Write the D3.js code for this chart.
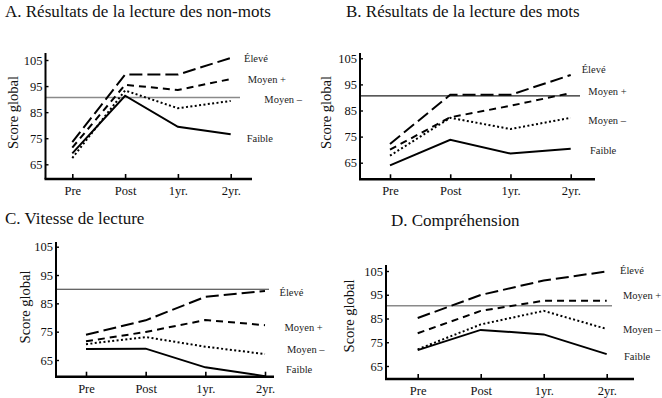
<!DOCTYPE html>
<html>
<head>
<meta charset="utf-8">
<script src="https://cdn.jsdelivr.net/npm/d3@7"></script>
<style>
  body { margin: 0; background: #fff; }
  svg { display: block; font-family: "Liberation Serif", "DejaVu Serif", serif; }
</style>
</head>
<body>
<div id="chart"></div>
<script>
// Categories, groups and tick values
const categories = ['Pre', 'Post', '1yr.', '2yr.'];
const groups = ['Élevé', 'Moyen +', 'Moyen –', 'Faible'];
const yTicks = [65, 75, 85, 95, 105];
const titles = [
    'A. Résultats de la lecture des non-mots',
    'B. Résultats de la lecture des mots',
    'C. Vitesse de lecture',
    'D. Compréhension'
];
const yLabel = 'Score global';

// Reference (average) line for each panel
const refValues = [90.6, 90.6, 90, 90.4];

// Scores per group (Élevé, Moyen +, Moyen –, Faible), per test time
const nonMots = [
    [73.5, 99.4, 99.4, 105.8],
    [71.4, 95.5, 93.5, 97.7],
    [67.4, 93.3, 86.5, 89.3],
    [69.2, 91.3, 79.4, 76.5]
];
const mots = [
    [72.2, 91.0, 91.0, 98.6],
    [70.0, 82.4, 86.8, 91.7],
    [67.7, 82.2, 77.9, 82.2],
    [64.0, 73.8, 68.5, 70.3]
];
const vitesse = [
    [73.9, 79.0, 87.3, 89.4],
    [71.6, 74.9, 79.1, 77.3],
    [70.6, 73.1, 69.7, 67.1],
    [68.9, 69.0, 62.4, 59.3]
];
const comprehension = [
    [85.2, 94.9, 101.0, 104.8],
    [78.8, 88.2, 92.5, 92.5],
    [72.0, 82.5, 88.2, 80.6],
    [71.7, 80.2, 78.3, 70.0]
];
const panelValues = [nonMots, mots, vitesse, comprehension];

// Line style for each group
const dashes = ['13,5', '7,5', '2,2.4', null];

// Layout of the four panels (pixels)
let layout = [
    { xAxis: 45.5, xEnd: 252, refEnd: 240, yTop: 53, yBase: 179, xr: [72.3, 230.7], yr: [164.3, 60],
      titleX: 5, titleY: 17, labX: 17.5, labY: 112.5, refColor: '#8a8a8a', refWidth: 1.6,
      tags: [[244, 58.3], [247.7, 79.3], [264.3, 99], [246.7, 138.3]] },
    { xAxis: 360, xEnd: 595, refEnd: 580, yTop: 53, yBase: 179.3, xr: [390, 570.7], yr: [162.7, 58.3],
      titleX: 346, titleY: 17, labX: 331, labY: 112.5, refColor: '#222', refWidth: 1.1,
      tags: [[581.7, 69], [588.3, 91.7], [588.3, 120], [590, 150.7]] },
    { xAxis: 56, xEnd: 274, refEnd: 269, yTop: 242, yBase: 376.7, xr: [86, 265], yr: [360, 246.7],
      titleX: 5, titleY: 224, labX: 30, labY: 307, refColor: '#333', refWidth: 1.1,
      tags: [[279.5, 292.3], [284.5, 327], [287, 349.5], [286, 369.5]] },
    { xAxis: 386, xEnd: 634, refEnd: 612, yTop: 265, yBase: 379, xr: [417.7, 606.7], yr: [366, 271],
      titleX: 391, titleY: 226, labX: 354, labY: 316, refColor: '#8a8a8a', refWidth: 1.6,
      tags: [[620, 270.7], [623, 295], [623, 329], [624, 356.7]] }
];

let svg = d3.select('#chart')
    .append('svg')
    .attr('width', 662)
    .attr('height', 398);

layout.forEach(function (p, i) {
    let x = d3.scalePoint().domain(categories).range(p.xr);
    let y = d3.scaleLinear().domain([65, 105]).range(p.yr);
    let g = svg.append('g');

    // Title
    g.append('text')
        .attr('x', p.titleX)
        .attr('y', p.titleY)
        .attr('font-size', 17)
        .attr('fill', '#111')
        .text(titles[i]);

    // Y axis title
    g.append('text')
        .attr('transform', 'translate(' + p.labX + ',' + p.labY + ') rotate(-90)')
        .attr('text-anchor', 'middle')
        .attr('font-size', 14.5)
        .attr('fill', '#111')
        .text(yLabel);

    // Reference line
    g.append('line')
        .attr('x1', p.xAxis)
        .attr('x2', p.refEnd)
        .attr('y1', y(refValues[i]))
        .attr('y2', y(refValues[i]))
        .attr('stroke', p.refColor)
        .attr('stroke-width', p.refWidth);

    // Series lines
    let line = d3.line()
        .x(function (d, j) { return x(categories[j]); })
        .y(function (d) { return y(d); });

    panelValues[i].forEach(function (vals, k) {
        g.append('path')
            .datum(vals)
            .attr('d', line)
            .attr('fill', 'none')
            .attr('stroke', '#000')
            .attr('stroke-width', 2)
            .attr('stroke-dasharray', dashes[k]);

        g.append('text')
            .attr('x', p.tags[k][0])
            .attr('y', p.tags[k][1])
            .attr('dy', '0.35em')
            .attr('font-size', 10.5)
            .attr('fill', '#222')
            .text(groups[k]);
    });

    // X axis
    let xa = g.append('g')
        .attr('transform', 'translate(0,' + p.yBase + ')')
        .call(d3.axisBottom(x).tickSize(-5).tickSizeOuter(0).tickPadding(7));
    xa.select('.domain').remove();
    xa.selectAll('.tick line').attr('stroke-width', 1.6);
    xa.selectAll('.tick text')
        .attr('font-family', '"Liberation Serif", serif')
        .attr('font-size', 12.5)
        .attr('fill', '#111');

    // Y axis
    let ya = g.append('g')
        .attr('transform', 'translate(' + p.xAxis + ',0)')
        .call(d3.axisLeft(y).tickValues(yTicks).tickSize(-3).tickSizeOuter(0).tickPadding(3));
    ya.select('.domain').remove();
    ya.selectAll('.tick line').attr('stroke-width', 1.4);
    ya.selectAll('.tick text')
        .attr('font-family', '"Liberation Serif", serif')
        .attr('font-size', 12.5)
        .attr('fill', '#111');

    // Axis lines
    g.append('line')
        .attr('x1', p.xAxis).attr('x2', p.xAxis)
        .attr('y1', p.yTop).attr('y2', p.yBase)
        .attr('stroke', '#000').attr('stroke-width', 2);
    g.append('line')
        .attr('x1', p.xAxis - 1).attr('x2', p.xEnd)
        .attr('y1', p.yBase).attr('y2', p.yBase)
        .attr('stroke', '#000').attr('stroke-width', 2.5);
});
</script>
</body>
</html>
